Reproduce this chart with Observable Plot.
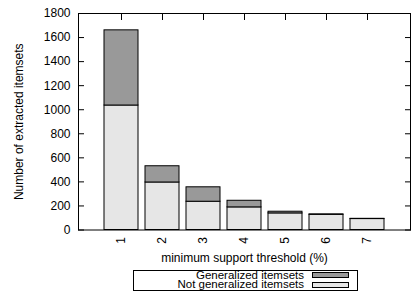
<!DOCTYPE html>
<html>
<head>
<meta charset="utf-8">
<script src="https://cdn.jsdelivr.net/npm/d3@7"></script>
<script src="https://cdn.jsdelivr.net/npm/@observablehq/plot@0.6"></script>
<style>
  html, body { margin: 0; padding: 0; background: #fff; }
  #wrap { position: relative; width: 419px; height: 307px; font-family: "Liberation Sans", Arial, sans-serif; }
  #legend { position: absolute; left: 133px; top: 270px; width: 225px; height: 21px; border: 1px solid #000; box-sizing: border-box; font-size: 11.5px; }
  .row { position: absolute; right: 0; height: 9px; display: flex; align-items: center; }
  .row span { display: block; margin-right: 8px; height: 9px; line-height: 9px; color: #000; white-space: nowrap; }
  .sw { width: 35px; height: 4px; border: 1px solid #000; margin-right: 8px; }
</style>
</head>
<body>
<div id="wrap"><div id="chart"></div><div id="legend"></div></div>
<script>
const thresholds = [1, 2, 3, 4, 5, 6, 7];
const notGeneralized = [1035, 395, 235, 188, 138, 126, 91];
const generalized = [625, 135, 120, 55, 14, 4, 2];
const seriesNames = ["Not generalized itemsets", "Generalized itemsets"];
const seriesColors = ["#e6e6e6", "#999999"];
const yTicks = [0, 200, 400, 600, 800, 1000, 1200, 1400, 1600, 1800];

const rows = [];
thresholds.forEach((t, i) => {
  rows.push({threshold: t, series: seriesNames[0], value: notGeneralized[i]});
  rows.push({threshold: t, series: seriesNames[1], value: generalized[i]});
});

const chart = Plot.plot({
  width: 419,
  height: 266,
  marginLeft: 78,
  marginRight: 9,
  marginTop: 13,
  marginBottom: 36.5,
  style: {fontFamily: '"Liberation Sans", Arial, sans-serif', fontSize: "12px", color: "#000", background: "#fff"},
  x: {type: "band", domain: thresholds, paddingInner: 0.18, paddingOuter: 0.59},
  y: {domain: [0, 1800]},
  color: {domain: seriesNames, range: seriesColors},
  marks: [
    Plot.axisY({ticks: yTicks, tickSize: 6, dx: 6, text: null, label: null, stroke: "#000"}),
    Plot.axisY({anchor: "right", ticks: yTicks, tickSize: 6, dx: -6, text: null, label: null, stroke: "#000"}),
    Plot.axisX({anchor: "top", tickSize: 6, dy: 6, text: null, label: null, stroke: "#000"}),
    Plot.axisY({ticks: yTicks, tickFormat: d => String(d), tickSize: 0, tickPadding: 8, fill: "#000", label: "Number of extracted itemsets", labelAnchor: "center", labelOffset: 64, labelArrow: "none"}),
    Plot.axisX({tickSize: 0, tickPadding: 7, tickRotate: -90, fill: "#000", label: "minimum support threshold (%)", labelAnchor: "center", labelOffset: 32, labelArrow: "none"}),
    Plot.barY(rows, {x: "threshold", y: "value", fill: "series", stroke: "#000", strokeWidth: 1, order: seriesNames}),
    Plot.frame({stroke: "#000", strokeWidth: 1})
  ]
});
document.getElementById("chart").appendChild(chart);

const legend = document.getElementById("legend");
[1, 0].forEach((k, j) => {
  const row = document.createElement("div");
  row.className = "row";
  row.style.top = (j === 0 ? -0.5 : 9) + "px";
  const s = document.createElement("span");
  s.textContent = seriesNames[k];
  const sw = document.createElement("div");
  sw.className = "sw";
  sw.style.background = seriesColors[k];
  row.appendChild(s);
  row.appendChild(sw);
  legend.appendChild(row);
});
</script>
</body>
</html>
